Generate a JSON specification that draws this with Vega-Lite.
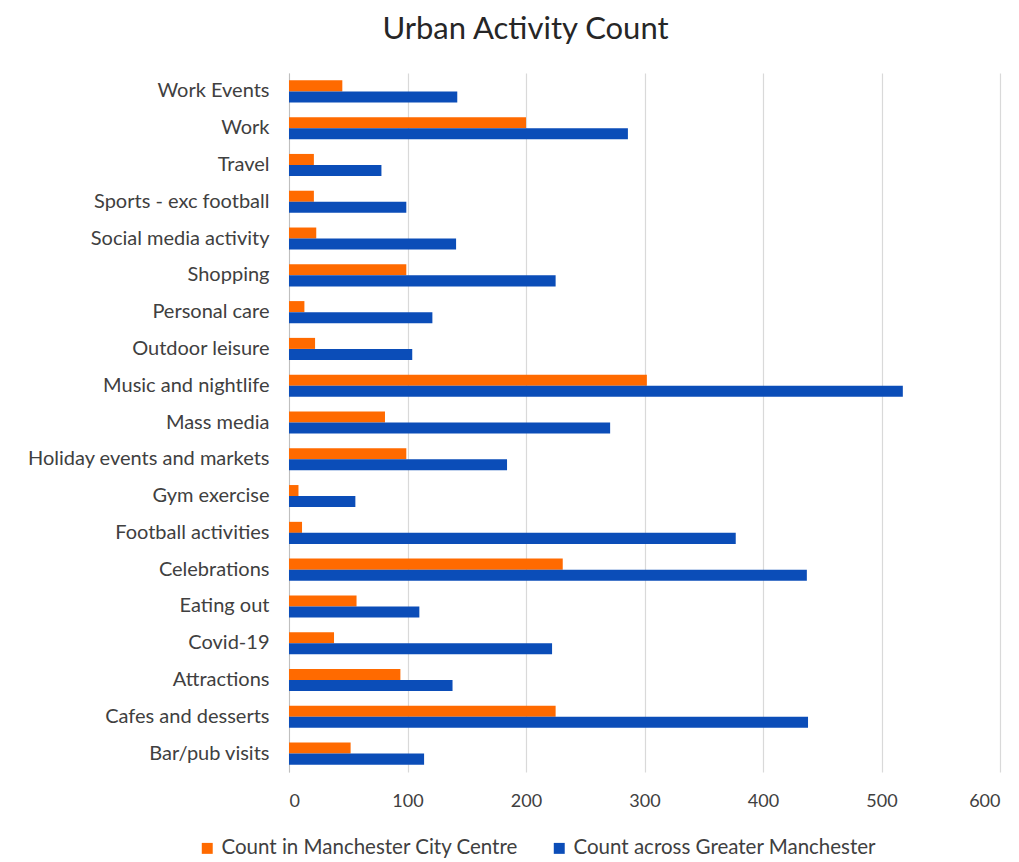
{
  "$schema": "https://vega.github.io/schema/vega-lite/v6.json",
  "width": 711,
  "height": 699,
  "autosize": {"type": "none"},
  "padding": {"left": 289, "top": 73, "right": 19, "bottom": 90},
  "background": "white",
  "title": {
    "text": "Urban Activity Count",
    "font": "Lato",
    "fontSize": 31,
    "fontWeight": "normal",
    "color": "#262626",
    "anchor": "middle",
    "frame": "group",
    "dx": -119,
    "offset": 27
  },
  "config": {
    "view": {"stroke": null},
    "font": "Lato"
  },
  "data": {
    "values": [
      {"activity": "Work Events", "series": "Count in Manchester City Centre", "count": 45},
      {"activity": "Work Events", "series": "Count across Greater Manchester", "count": 142},
      {"activity": "Work", "series": "Count in Manchester City Centre", "count": 200},
      {"activity": "Work", "series": "Count across Greater Manchester", "count": 286},
      {"activity": "Travel", "series": "Count in Manchester City Centre", "count": 21},
      {"activity": "Travel", "series": "Count across Greater Manchester", "count": 78},
      {"activity": "Sports - exc football", "series": "Count in Manchester City Centre", "count": 21},
      {"activity": "Sports - exc football", "series": "Count across Greater Manchester", "count": 99},
      {"activity": "Social media activity", "series": "Count in Manchester City Centre", "count": 23},
      {"activity": "Social media activity", "series": "Count across Greater Manchester", "count": 141},
      {"activity": "Shopping", "series": "Count in Manchester City Centre", "count": 99},
      {"activity": "Shopping", "series": "Count across Greater Manchester", "count": 225},
      {"activity": "Personal care", "series": "Count in Manchester City Centre", "count": 13},
      {"activity": "Personal care", "series": "Count across Greater Manchester", "count": 121},
      {"activity": "Outdoor leisure", "series": "Count in Manchester City Centre", "count": 22},
      {"activity": "Outdoor leisure", "series": "Count across Greater Manchester", "count": 104},
      {"activity": "Music and nightlife", "series": "Count in Manchester City Centre", "count": 302},
      {"activity": "Music and nightlife", "series": "Count across Greater Manchester", "count": 518},
      {"activity": "Mass media", "series": "Count in Manchester City Centre", "count": 81},
      {"activity": "Mass media", "series": "Count across Greater Manchester", "count": 271},
      {"activity": "Holiday events and markets", "series": "Count in Manchester City Centre", "count": 99},
      {"activity": "Holiday events and markets", "series": "Count across Greater Manchester", "count": 184},
      {"activity": "Gym exercise", "series": "Count in Manchester City Centre", "count": 8},
      {"activity": "Gym exercise", "series": "Count across Greater Manchester", "count": 56},
      {"activity": "Football activities", "series": "Count in Manchester City Centre", "count": 11},
      {"activity": "Football activities", "series": "Count across Greater Manchester", "count": 377},
      {"activity": "Celebrations", "series": "Count in Manchester City Centre", "count": 231},
      {"activity": "Celebrations", "series": "Count across Greater Manchester", "count": 437},
      {"activity": "Eating out", "series": "Count in Manchester City Centre", "count": 57},
      {"activity": "Eating out", "series": "Count across Greater Manchester", "count": 110},
      {"activity": "Covid-19", "series": "Count in Manchester City Centre", "count": 38},
      {"activity": "Covid-19", "series": "Count across Greater Manchester", "count": 222},
      {"activity": "Attractions", "series": "Count in Manchester City Centre", "count": 94},
      {"activity": "Attractions", "series": "Count across Greater Manchester", "count": 138},
      {"activity": "Cafes and desserts", "series": "Count in Manchester City Centre", "count": 225},
      {"activity": "Cafes and desserts", "series": "Count across Greater Manchester", "count": 438},
      {"activity": "Bar/pub visits", "series": "Count in Manchester City Centre", "count": 52},
      {"activity": "Bar/pub visits", "series": "Count across Greater Manchester", "count": 114}
    ]
  },
  "mark": {"type": "bar"},
  "encoding": {
    "y": {
      "field": "activity",
      "type": "nominal",
      "sort": ["Work Events", "Work", "Travel", "Sports - exc football", "Social media activity", "Shopping", "Personal care", "Outdoor leisure", "Music and nightlife", "Mass media", "Holiday events and markets", "Gym exercise", "Football activities", "Celebrations", "Eating out", "Covid-19", "Attractions", "Cafes and desserts", "Bar/pub visits"],
      "scale": {"paddingInner": 0.4, "paddingOuter": 0.2},
      "axis": {
        "title": null,
        "ticks": false,
        "labelFontSize": 20,
        "labelColor": "#404040",
        "labelPadding": 20,
        "labelLimit": 300,
        "domainColor": "#bfbfbf",
        "domainWidth": 1,
        "grid": false
      }
    },
    "yOffset": {
      "field": "series",
      "type": "nominal",
      "sort": ["Count in Manchester City Centre", "Count across Greater Manchester"]
    },
    "x": {
      "field": "count",
      "type": "quantitative",
      "scale": {"domain": [0, 600], "nice": false},
      "axis": {
        "title": null,
        "values": [0, 100, 200, 300, 400, 500, 600],
        "domain": false,
        "ticks": false,
        "labelFontSize": 18,
        "labelColor": "#404040",
        "labelPadding": 20,
        "gridColor": "#d9d9d9",
        "gridWidth": 1.2
      }
    },
    "color": {
      "field": "series",
      "type": "nominal",
      "sort": ["Count in Manchester City Centre", "Count across Greater Manchester"],
      "scale": {
        "domain": ["Count in Manchester City Centre", "Count across Greater Manchester"],
        "range": ["#FF6A00", "#0B4DB8"]
      },
      "legend": {
        "title": null,
        "orient": "none",
        "legendX": -92,
        "legendY": 765,
        "direction": "horizontal",
        "symbolType": "square",
        "symbolSize": 120,
        "labelFontSize": 20.5,
        "labelLimit": 400,
        "labelColor": "#404040",
        "columnPadding": 30,
        "labelOffset": 4
      }
    }
  }
}
